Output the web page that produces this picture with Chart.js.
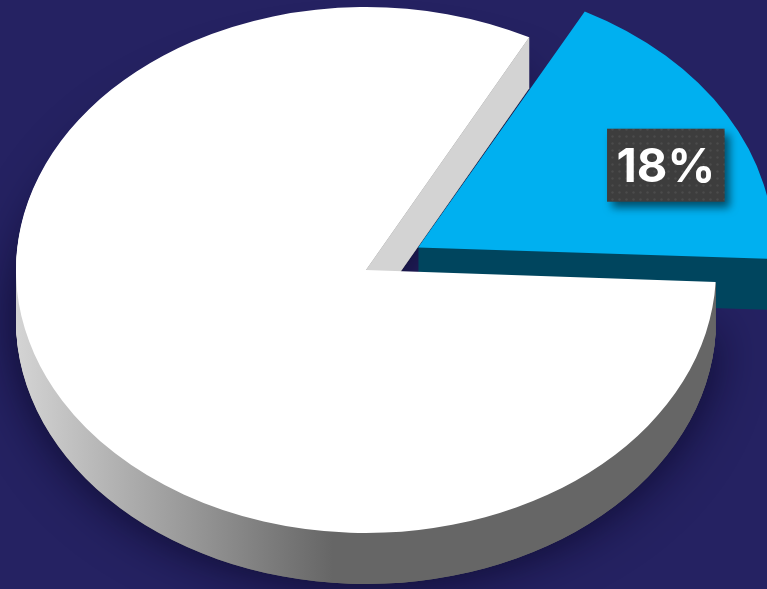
<!DOCTYPE html>
<html><head><meta charset="utf-8">
<script src="https://cdn.jsdelivr.net/npm/chart.js@4.4.0/dist/chart.umd.min.js"></script>
<style>html,body{margin:0;padding:0;background:#252262;overflow:hidden}#wrap{width:767px;height:589px;position:relative}canvas{display:block}</style>
</head><body><div id="wrap"><canvas id="c" width="767" height="589"></canvas></div>
<script>
const categories = ['Share', 'Remainder'];
const values = [18, 82];
const sliceColors = ['#00b0f0', '#ffffff'];
const explode = [240, 0];
const shownLabels = [values[0] + '%', null];

const TILT = 0.7514;   // vertical squash of the tilted pie
const DEPTH = 51;      // thickness in screen px

function squash(ctx, cy) { ctx.translate(0, cy); ctx.scale(1, TILT); ctx.translate(0, -cy); }
function sectorPath(ctx, el, dy) {
  ctx.beginPath();
  ctx.moveTo(el.x, el.y + dy);
  ctx.arc(el.x, el.y + dy, el.outerRadius, el.startAngle, el.endAngle);
  ctx.closePath();
}
function dotPattern(ctx) {
  const p = document.createElement('canvas'); p.width = 7; p.height = 7;
  const c = p.getContext('2d');
  c.fillStyle = '#3d3d3d'; c.fillRect(0, 0, 7, 7);
  c.fillStyle = '#4b4b4b'; c.beginPath(); c.arc(3.5, 3.5, 1.2, 0, Math.PI * 2); c.fill();
  return ctx.createPattern(p, 'repeat');
}

const pie3d = {
  id: 'pie3d',
  beforeDraw(chart) {
    const c = chart.ctx; c.save(); c.fillStyle = '#252262'; c.fillRect(0, 0, chart.width, chart.height); c.restore();
  },
  beforeDatasetsDraw(chart) {
    const ctx = chart.ctx;
    const arcs = chart.getDatasetMeta(0).data;
    const side = arcs[0], front = arcs[1];
    const step = 1 / TILT;
    ctx.save();
    squash(ctx, front.y);
    // soft shadow under the pie
    ctx.save();
    ctx.shadowColor = 'rgba(8,6,36,0.85)'; ctx.shadowBlur = 50;
    ctx.fillStyle = '#666666';
    sectorPath(ctx, front, DEPTH * step); ctx.fill();
    ctx.restore();
    // walls of the exploded slice (library-drawn arc, darkened)
    ctx.save(); ctx.filter = 'brightness(0.395)';
    for (let d = DEPTH; d >= 1; d--) { ctx.save(); ctx.translate(0, d * step); side.draw(ctx); ctx.restore(); }
    ctx.restore();
    // walls of the main slice
    const g = ctx.createLinearGradient(front.x - front.outerRadius, 0, front.x - 33, 0);
    g.addColorStop(0, '#d4d4d4'); g.addColorStop(1, '#666666');
    ctx.fillStyle = g;
    for (let d = DEPTH; d >= 1; d--) { sectorPath(ctx, front, d * step); ctx.fill(); }
    // cut face facing the exploded slice
    const a = front.endAngle, R = front.outerRadius;
    ctx.beginPath();
    ctx.moveTo(front.x, front.y);
    ctx.lineTo(front.x + R * Math.cos(a), front.y + R * Math.sin(a));
    ctx.lineTo(front.x + R * Math.cos(a), front.y + R * Math.sin(a) + DEPTH * step);
    ctx.lineTo(front.x, front.y + DEPTH * step);
    ctx.closePath(); ctx.fillStyle = '#d3d3d3'; ctx.fill();
  },
  afterDatasetsDraw(chart) {
    const ctx = chart.ctx;
    ctx.restore();
    const arcs = chart.getDatasetMeta(0).data;
    arcs.forEach((el, i) => {
      const txt = shownLabels[i];
      if (!txt) return;
      const mid = (el.startAngle + el.endAngle) / 2 + 5 * Math.PI / 180;
      const r = el.outerRadius * 0.95;
      const lx = el.x + r * Math.cos(mid) - 2, ly = el.y + TILT * r * Math.sin(mid);
      ctx.save();
      ctx.font = '700 47px Inter';
      const w = ctx.measureText(txt).width + 19, h = 73;
      ctx.shadowColor = 'rgba(0,0,0,0.55)'; ctx.shadowBlur = 8; ctx.shadowOffsetX = 5; ctx.shadowOffsetY = 6;
      ctx.fillStyle = dotPattern(ctx);
      ctx.fillRect(lx - w / 2, ly - h / 2, w, h);
      ctx.shadowColor = 'transparent';
      ctx.fillStyle = '#ffffff'; ctx.textAlign = 'center'; ctx.textBaseline = 'alphabetic';
      ctx.fillText(txt, lx, ly + 17);
      ctx.restore();
    });
  }
};

new Chart(document.getElementById('c'), {
  type: 'pie',
  data: {
    labels: categories,
    datasets: [{
      data: values,
      backgroundColor: sliceColors,
      borderWidth: 0,
      offset: explode,
      clip: 2000
    }]
  },
  options: {
    responsive: false,
    devicePixelRatio: 1,
    animation: false,
    events: [],
    radius: 350,
    rotation: 27.8,
    layout: { padding: { left: 0, right: 35, top: 0, bottom: 49 } },
    plugins: { legend: { display: false }, tooltip: { enabled: false }, title: { display: false } }
  },
  plugins: [pie3d]
});
</script>
</body></html>
